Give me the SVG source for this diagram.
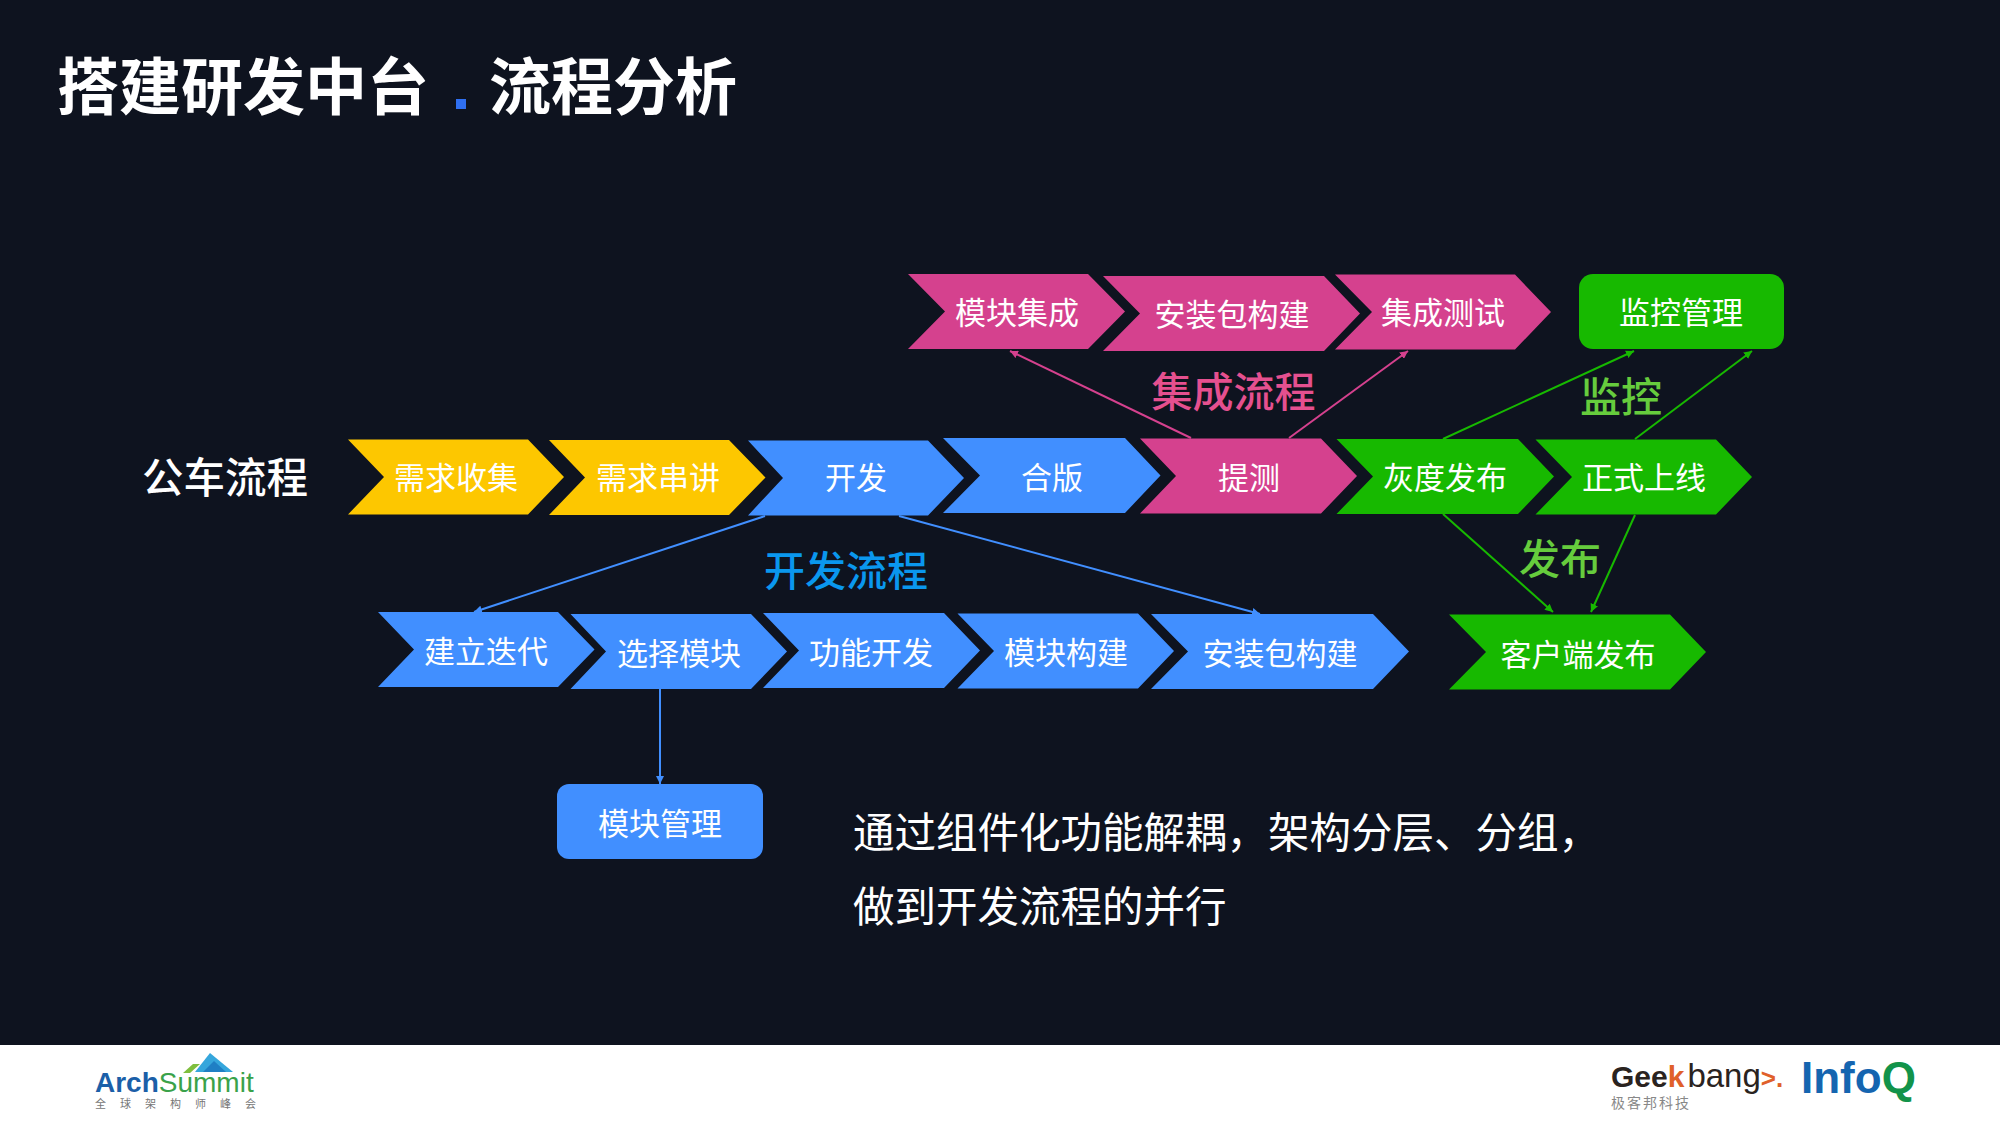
<svg xmlns="http://www.w3.org/2000/svg" width="2000" height="1125" viewBox="0 0 2000 1125">
<style>
text{font-family:"Noto Sans CJK SC","Noto Sans",sans-serif;dominant-baseline:central}
.n{font-size:31px;fill:#fff;text-anchor:middle}
.h{font-size:41px;font-weight:500;text-anchor:middle}
.b{font-size:41.500px;fill:#fff}
.t{font-size:62px;font-weight:700;fill:#fff}
.blue{fill:#418fff}.pink{fill:#d5418e}.green{fill:#17b900}.yellow{fill:#fdc700}
.c{fill:none;stroke-width:2}
.cb{stroke:#418fff}.cp{stroke:#d5418e}.cg{stroke:#17b900}
.lg{dominant-baseline:auto}
.la{font-family:"Liberation Sans",sans-serif}
</style>
<defs>
<marker id="mb" markerUnits="userSpaceOnUse" markerWidth="9" markerHeight="8" refX="8" refY="4" orient="auto"><path d="M0 0L8 4L0 8z" fill="#418fff"/></marker>
<marker id="mp" markerUnits="userSpaceOnUse" markerWidth="9" markerHeight="8" refX="8" refY="4" orient="auto"><path d="M0 0L8 4L0 8z" fill="#d5418e"/></marker>
<marker id="mg" markerUnits="userSpaceOnUse" markerWidth="9" markerHeight="8" refX="8" refY="4" orient="auto"><path d="M0 0L8 4L0 8z" fill="#17b900"/></marker>
</defs>
<rect width="2000" height="1125" fill="#0e131f"/>
<rect y="1045" width="2000" height="80" fill="#fff"/>
<g id="title"><text class="t" x="57" y="83">搭建研发中台</text><rect x="456" y="99" width="10" height="10" fill="#2f6ff0"/><text class="t" x="489" y="83">流程分析</text></g>

<g id="connectors">
<line class="c cb" x1="765" y1="516" x2="474" y2="612" marker-end="url(#mb)"/>
<line class="c cb" x1="899" y1="516" x2="1260" y2="614" marker-end="url(#mb)"/>
<line class="c cb" x1="660" y1="689" x2="660" y2="784" marker-end="url(#mb)"/>
<line class="c cp" x1="1191" y1="438" x2="1010" y2="351" marker-end="url(#mp)"/>
<line class="c cp" x1="1289" y1="438" x2="1408" y2="351" marker-end="url(#mp)"/>
<line class="c cg" x1="1443" y1="439" x2="1634" y2="351" marker-end="url(#mg)"/>
<line class="c cg" x1="1635" y1="439" x2="1752" y2="351" marker-end="url(#mg)"/>
<line class="c cg" x1="1443" y1="514" x2="1553" y2="612" marker-end="url(#mg)"/>
<line class="c cg" x1="1635" y1="515" x2="1591" y2="612" marker-end="url(#mg)"/>
</g>

<g id="n-mkjc"><polygon class="pink" points="908,274 1088,274 1125,311.500 1088,349 908,349 945,311.500"/><text class="n" x="1017" y="310">模块集成</text></g>
<g id="n-azbgj1"><polygon class="pink" points="1103,276 1324,276 1360,313.500 1324,351 1103,351 1140,313.500"/><text class="n" x="1232" y="312">安装包构建</text></g>
<g id="n-jccs"><polygon class="pink" points="1335,274.500 1515,274.500 1551,312 1515,349.500 1335,349.500 1372,312"/><text class="n" x="1443" y="310">集成测试</text></g>
<g id="n-jkgl"><rect class="green" x="1579" y="274" width="205" height="75" rx="14"/><text class="n" x="1681" y="310">监控管理</text></g>

<g id="n-gclc"><text class="h" x="225" y="475" fill="#fff" style="font-size:41.500px">公车流程</text></g>
<g id="n-xqsj"><polygon class="yellow" points="348,439.500 528,439.500 564,477 528,514.500 348,514.500 384,477"/><text class="n" x="456" y="475">需求收集</text></g>
<g id="n-xqcj"><polygon class="yellow" points="549,440 729,440 765.500,477.500 729,515 549,515 585,477.500"/><text class="n" x="658" y="475">需求串讲</text></g>
<g id="n-kf"><polygon class="blue" points="748,440.500 928,440.500 964,478 928,515.500 748,515.500 783,478"/><text class="n" x="856" y="475">开发</text></g>
<g id="n-hb"><polygon class="blue" points="943,438 1125,438 1160.500,475.500 1125,513 943,513 980,475.500"/><text class="n" x="1052" y="475">合版</text></g>
<g id="n-tc"><polygon class="pink" points="1140,438.500 1321,438.500 1357,476 1321,513.500 1140,513.500 1176,476"/><text class="n" x="1249" y="475">提测</text></g>
<g id="n-hdfb"><polygon class="green" points="1336.500,439 1518,439 1554,476.500 1518,514 1336.500,514 1373,476.500"/><text class="n" x="1445" y="475">灰度发布</text></g>
<g id="n-zssx"><polygon class="green" points="1535.500,439.500 1716,439.500 1752,477 1716,514.500 1535.500,514.500 1572,477"/><text class="n" x="1644" y="475">正式上线</text></g>

<g id="n-jllc"><text class="h" x="1233.500" y="389" fill="#e5508f">集成流程</text></g>
<g id="n-jk"><text class="h" x="1621" y="394" fill="#66cc3d">监控</text></g>
<g id="n-fb"><text class="h" x="1560" y="556" fill="#66cc3d">发布</text></g>
<g id="n-kflc"><text class="h" x="846" y="568" fill="#0a97ee">开发流程</text></g>

<g id="n-jldd"><polygon class="blue" points="378,612 558,612 594.500,649.500 558,687 378,687 414,649.500"/><text class="n" x="486" y="649">建立迭代</text></g>
<g id="n-xzmk"><polygon class="blue" points="570.500,614 751,614 787,651.500 751,689 570.500,689 606,651.500"/><text class="n" x="679" y="651">选择模块</text></g>
<g id="n-gnkf"><polygon class="blue" points="763,613 944,613 980,650.500 944,688 763,688 799,650.500"/><text class="n" x="871" y="650">功能开发</text></g>
<g id="n-mkgj"><polygon class="blue" points="957.500,613.500 1138,613.500 1174,651 1138,688.500 957.500,688.500 994,651"/><text class="n" x="1066" y="650">模块构建</text></g>
<g id="n-azbgj2"><polygon class="blue" points="1151,614 1373,614 1409,651.500 1373,689 1151,689 1188,651.500"/><text class="n" x="1280" y="651">安装包构建</text></g>
<g id="n-khdfb"><polygon class="green" points="1449,614.500 1670,614.500 1706,652 1670,689.500 1449,689.500 1486,652"/><text class="n" x="1578" y="652">客户端发布</text></g>
<g id="n-mkgl"><rect class="blue" x="557" y="784" width="206" height="75" rx="12"/><text class="n" x="660" y="821">模块管理</text></g>

<g id="body"><text class="b" x="853" y="830">通过组件化功能解耦，架构分层、分组，</text><text class="b" x="853" y="904">做到开发流程的并行</text></g>

<g id="logo-archsummit">
<polygon points="195,1072 210,1053 233,1072" fill="#35a6dc"/><polygon points="203,1072 214,1061 226,1072" fill="#1f7fc4"/><polygon points="183,1073 193,1064 200,1064 190,1073" fill="#7fbf3f"/>
<text class="lg la" x="95" y="1092" font-size="28" font-weight="700" fill="#1b5fa8">Arch<tspan fill="#3aa24a" font-weight="400">Summit</tspan></text>
<text class="lg" x="95" y="1108" font-size="11" fill="#777" letter-spacing="14">全球架构师峰会</text>
</g>
<g id="logo-geekbang">
<text class="lg la" x="1611" y="1087" font-size="30" font-weight="700" fill="#2a2320">Gee<tspan fill="#e0602a">k</tspan><tspan font-size="33" font-weight="400" dx="3">bang</tspan><tspan font-size="26" fill="#e0602a" font-weight="700">&gt;.</tspan></text>
<text class="lg" x="1611" y="1108" font-size="14" fill="#888" letter-spacing="2">极客邦科技</text>
</g>
<g id="logo-infoq">
<text class="lg la" x="1801" y="1093" font-size="44" font-weight="700" fill="#1565b0">Info<tspan fill="#12934a">Q</tspan></text>
</g>
</svg>
